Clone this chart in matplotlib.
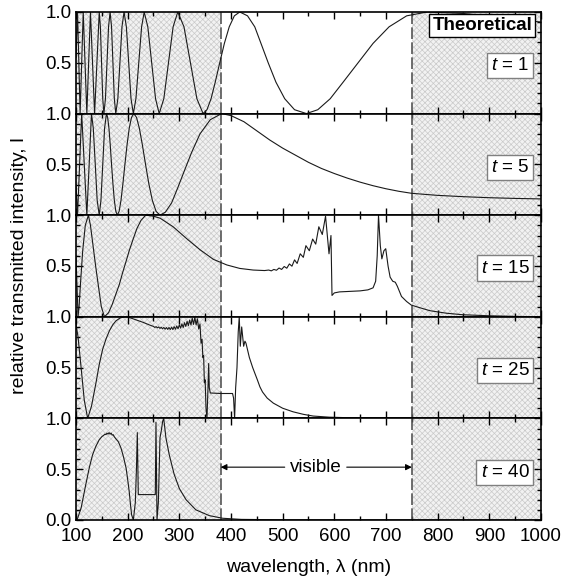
import matplotlib
matplotlib.use("Agg")
import matplotlib.pyplot as plt
from matplotlib.ticker import MultipleLocator
import numpy as np

plt.rcParams['font.family'] = ['Liberation Sans', 'DejaVu Sans']
plt.rcParams['mathtext.fontset'] = 'custom'
plt.rcParams['mathtext.it'] = 'Liberation Sans:italic'
plt.rcParams['mathtext.rm'] = 'Liberation Sans'
plt.rcParams['hatch.linewidth'] = 0.5

# ---------------- data (wavelength nm, relative intensity) ----------------
panel_labels = ["$t$ = 1", "$t$ = 5", "$t$ = 15", "$t$ = 25", "$t$ = 40"]

T1_DATA = [(100,0.55),(103,1.0),(108,0.0),(114,1.0),(121,0.0),(128,1.0),(136,0.0),(145,1.0),
           (147.2,0.854),(149.5,0.5),(151.8,0.146),(154,0.0),(157,0.146),(160,0.5),(163,0.854),
           (166,1.0),(168.8,0.854),(171.5,0.5),(174.2,0.146),(177,0.0),(181,0.146),(185,0.5),
           (189,0.854),(193,1.0),(197.5,0.854),(202,0.5),(206.5,0.146),(211,0.0),(216,0.146),
           (221.5,0.5),(227,0.854),(232,1.0),(239,0.854),(246.5,0.5),(254,0.146),(261,0.0),
           (270,0.146),(279,0.5),(288,0.854),(297,1.0),(309,0.854),(321.5,0.5),(334,0.146),
           (346,0.0),(353.5,0.038),(361.4,0.146),(369.5,0.309),(378.2,0.5),(387.2,0.691),
           (396.6,0.854),(406.5,0.962),(417,1.0),(432,0.962),(446,0.854),(458,0.691),(472,0.5),
           (487,0.309),(504,0.146),(523,0.038),(546,0.0),(568,0.038),(592,0.146),(617,0.309),
           (646,0.5),(675,0.691),(706,0.854),(740,0.962),(780,1.0),(850,0.985),(900,0.96),
           (950,0.93),(1000,0.9)]

T5_DATA = [(100,0.3),(103,0.0),(111,1.0),(121,0.0),(130,1.0),(133.5,0.854),(137.3,0.5),
           (141,0.146),(145,0.0),(148.3,0.146),(151.8,0.5),(155.3,0.854),(159,1.0),(161.3,0.962),
           (163.8,0.854),(166.3,0.691),(168.8,0.5),(171.5,0.309),(174.2,0.146),(177.1,0.038),
           (180,0.0),(183.5,0.038),(187.1,0.146),(190.8,0.309),(194.7,0.5),(198.8,0.691),
           (203,0.854),(207.4,0.962),(212,1.0),(217.2,0.962),(222.7,0.854),(228.5,0.691),
           (234.6,0.5),(241,0.309),(247.8,0.146),(255,0.038),(262.6,0.0),(273,0.03),(285,0.12),
           (297,0.27),(310,0.44),(324,0.62),(340,0.8),(360,0.94),(382,1.0),(400,0.98),(425,0.92),
           (450,0.83),(475,0.74),(500,0.66),(525,0.59),(550,0.52),(575,0.46),(600,0.41),
           (625,0.365),(650,0.325),(675,0.29),(700,0.26),(725,0.235),(750,0.215),(800,0.195),
           (850,0.182),(900,0.172),(950,0.165),(1000,0.16)]

T15_DATA = [(100,0.6),(104,0.0),(106,0.1),(109,0.35),(113,0.65),(118,0.9),(124,1.0),(128,0.9),
            (133,0.7),(138,0.5),(144,0.28),(149,0.1),(155,0.0),(163,0.04),(170,0.12),(177,0.22),
            (184,0.32),(190,0.43),(196,0.53),(203,0.65),(211,0.77),(218,0.87),(226,0.95),
            (235,1.0),(250,0.99),(263,0.97),(288,0.886),(314,0.77),(340,0.66),(366,0.565),
            (392,0.51),(417,0.476),(443,0.46),(465,0.455),(473,0.46),(478,0.452),(483,0.466),
            (488,0.458),(493,0.48),(498,0.466),(503,0.495),(508,0.478),(513,0.52),(518,0.498),
            (523,0.56),(528,0.525),(534,0.62),(540,0.585),(545,0.70),(551.6,0.65),(558,0.765),
            (564,0.715),(570,0.886),(576.7,0.81),(583,0.99),(589.7,0.62),(593.5,0.80),
            (595.5,0.21),(600,0.235),(610,0.245),(630,0.25),(650,0.255),(665,0.265),(675,0.285),
            (680,0.35),(683,0.6),(685.5,1.0),(689,0.7),(692,0.57),(696,0.65),(699.5,0.67),
            (704,0.5),(708,0.39),(713,0.35),(718,0.34),(722,0.3),(730,0.2),(740,0.15),
            (749,0.115),(765,0.09),(785,0.06),(817,0.035),(849,0.02),(900,0.01),(950,0.004),
            (1000,0.0)]

T25_DATA = [(100,0.93),(104,0.8),(109.7,0.51),(116,0.18),(122.6,0.0),(130,0.12),(138.7,0.35),
            (145,0.53),(151.6,0.68),(158,0.78),(164.5,0.86),(171,0.92),(177.4,0.96),(186,0.99),
            (196,1.0),(205,0.99),(216,0.97),(230,0.945),(242,0.92),
            (250,0.905),(252.5,0.895),(255,0.903),(257.5,0.891),(260,0.9),(262.5,0.886),
            (265,0.897),(267.5,0.882),(270,0.895),(272.5,0.878),(275,0.894),(277.5,0.876),
            (280,0.895),(282.5,0.874),(285,0.898),(287.5,0.874),(290,0.903),(292.5,0.877),
            (295,0.91),(297.5,0.882),(300,0.92),(302.5,0.888),(305,0.93),(307.5,0.895),
            (310,0.942),(312.5,0.905),(315,0.955),(317.5,0.912),(320,0.968),(322.5,0.92),
            (325,0.985),(327.5,0.925),(330,0.995),(332.5,0.92),(335,0.98),(337.5,0.88),
            (340,0.93),(342,0.74),(344,0.78),(345.5,0.6),(347,0.62),(348.5,0.35),(350,0.38),
            (351.6,0.1),(353.5,0.0),(355.5,0.3),(356.8,0.54),(358,0.3),(360,0.25),(380,0.245),
            (403,0.245),(405,0.2),(407,0.0),(409,0.3),(411.6,0.5),(414,0.85),(416,1.0),
            (418,0.71),(420.7,0.9),(424.5,0.71),(427,0.76),(429,0.74),(435.5,0.6),(442,0.5),
            (451,0.38),(456,0.31),(461,0.26),(470,0.2),(482,0.15),(500,0.1),(520,0.065),
            (540,0.04),(559,0.023),(590,0.012),(617,0.008),(650,0.004),(700,0.002),(1000,0.0)]

T40_DATA = [(100,0.0),(102,0.0),(110,0.12),(119,0.35),(126,0.52),(132,0.64),(138,0.72),
            (145,0.79),(150,0.82),(154,0.835),(156,0.845),(158,0.84),(160,0.855),(162,0.845),
            (164,0.86),(166,0.845),(168,0.855),(170,0.835),(172,0.84),(174,0.82),(177,0.8),
            (182,0.77),(187,0.71),(192,0.62),(197,0.51),(200,0.4),(203,0.28),(205.5,0.15),
            (207.7,0.05),(211,0.0),(214.8,0.17),(217,0.5),(218.7,0.86),(220.6,0.25),
            (222.6,0.25),(253.5,0.25),(254.8,0.96),(256.8,0.0),(259.4,0.17),(262.6,0.81),
            (265,0.875),(267.7,0.97),(269.7,1.0),(271.6,0.92),(274,0.81),(280.6,0.64),
            (290,0.45),(300,0.31),(313,0.2),(332,0.1),(358,0.043),(384,0.017),(420,0.006),
            (500,0.002),(1000,0.0)]

panels = [T1_DATA, T5_DATA, T15_DATA, T25_DATA, T40_DATA]
visible_range = (380, 750)
x_range = (100, 1000)
x_ticks = [100, 200, 300, 400, 500, 600, 700, 800, 900, 1000]

# ---------------- figure ----------------
fig = plt.figure(figsize=(5.77, 5.84), dpi=100)
axes = fig.subplots(5, 1, sharex=True, gridspec_kw=dict(hspace=0))
fig.subplots_adjust(left=0.1317, right=0.9376, top=0.9795, bottom=0.1096)

label_y = [0.47, 0.47, 0.48, 0.47, 0.47]
for i, (ax, data, lab) in enumerate(zip(axes, panels, panel_labels)):
    xs = np.array([p[0] for p in data])
    ys = np.array([p[1] for p in data])
    for (a, b) in [(x_range[0], visible_range[0]), (visible_range[1], x_range[1])]:
        ax.axvspan(a, b, facecolor='#f2f2f2', edgecolor='#cacaca', hatch='xxxxxx',
                   linewidth=0, zorder=0)
    ax.plot(xs, ys, color='#1a1a1a', lw=0.8, zorder=3)
    for v in visible_range:
        ax.axvline(v, color='#555555', lw=1.2, ls=(0, (7, 2)), zorder=2)
    ax.set_xlim(*x_range)
    ax.set_ylim(0, 1.0)
    ax.set_xticks(x_ticks)
    ax.xaxis.set_minor_locator(MultipleLocator(50))
    ax.set_yticks([0.0, 0.5, 1.0])
    if i < 4:
        ax.set_yticklabels(['', '0.5', '1.0'])
    else:
        ax.set_yticklabels(['0.0', '0.5', '1.0'])
    ax.yaxis.set_minor_locator(MultipleLocator(0.1))
    ax.tick_params(which='both', direction='in', top=True, right=True, labelsize=13.5,
                   width=1.0)
    ax.tick_params(axis='y', pad=3)
    ax.tick_params(axis='x', pad=6)
    ax.tick_params(which='major', length=5)
    ax.tick_params(which='minor', length=3)
    for s in ax.spines.values():
        s.set_linewidth(1.2)
        s.set_zorder(5)
    ax.text(0.975, label_y[i], lab, transform=ax.transAxes, ha='right', va='center',
            fontsize=13.5, zorder=6,
            bbox=dict(boxstyle='square,pad=0.22', facecolor='white', edgecolor='#808080', lw=1.0))

axes[0].text(0.981, 0.864, 'Theoretical', transform=axes[0].transAxes, ha='right', va='center',
             fontsize=13.5, fontweight='bold', zorder=6,
             bbox=dict(boxstyle='square,pad=0.15', facecolor='white', edgecolor='black', lw=1.0))

ax5 = axes[4]
ax5.text(564, 0.52, 'visible', ha='center', va='center', fontsize=13.5, zorder=6)
ax5.annotate('', xy=(visible_range[0], 0.52), xytext=(504, 0.52),
             arrowprops=dict(arrowstyle='-|>', color='black', lw=0.8, mutation_scale=9,
                             shrinkA=0, shrinkB=0), zorder=6)
ax5.annotate('', xy=(visible_range[1], 0.52), xytext=(624, 0.52),
             arrowprops=dict(arrowstyle='-|>', color='black', lw=0.8, mutation_scale=9,
                             shrinkA=0, shrinkB=0), zorder=6)
ax5.set_xlabel('wavelength, λ (nm)', fontsize=14, labelpad=10)
fig.text(0.033, 0.545, 'relative transmitted intensity, I', rotation=90, ha='center',
         va='center', fontsize=14)

fig.savefig('out.png', dpi=100)
